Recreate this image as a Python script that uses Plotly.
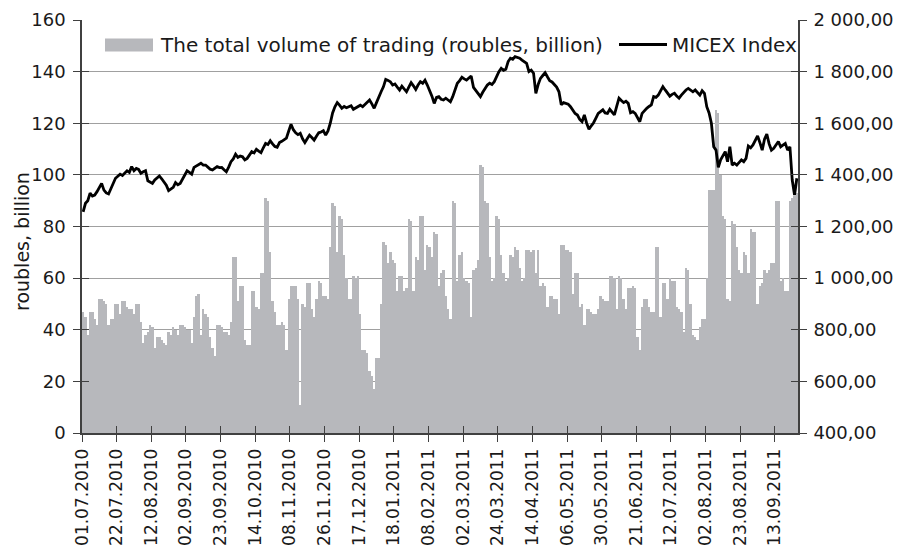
import plotly.graph_objects as go

# ---------------- data ----------------
volume = [
    47, 45, 38, 47, 47, 44, 42, 52, 52, 51, 50, 42, 44, 44, 50, 50, 46, 51, 51, 49,
    48, 48, 46, 50, 50, 43, 35, 38, 39, 42, 41, 33, 37, 37, 36, 35, 34, 39, 38, 41,
    40, 38, 42, 42, 41, 40, 40, 35, 45, 53, 54, 38, 48, 46, 45, 37, 33, 30, 42, 42,
    41, 39, 39, 38, 43, 68, 68, 51, 57, 57, 36, 34, 34, 55, 55, 49, 48, 62, 62, 91,
    90, 70, 51, 47, 42, 42, 43, 42, 32, 52, 57, 57, 57, 52, 11, 50, 49, 58, 58, 48,
    45, 52, 59, 58, 53, 53, 52, 72, 89, 88, 70, 84, 83, 69, 60, 52, 52, 61, 60, 61,
    46, 32, 32, 31, 24, 22, 17, 29, 29, 50, 74, 73, 66, 70, 67, 66, 55, 61, 61, 55,
    56, 83, 82, 55, 68, 67, 84, 84, 63, 73, 72, 68, 78, 77, 57, 62, 63, 53, 48, 44,
    90, 89, 59, 69, 70, 60, 59, 58, 45, 63, 64, 67, 104, 103, 90, 89, 68, 59, 60, 84,
    83, 69, 62, 59, 60, 69, 68, 72, 71, 64, 59, 60, 71, 71, 70, 71, 62, 71, 57, 58,
    57, 49, 53, 53, 52, 52, 46, 73, 73, 71, 71, 70, 54, 62, 62, 49, 50, 42, 48, 48,
    47, 46, 46, 48, 53, 52, 51, 51, 61, 61, 60, 48, 61, 60, 52, 48, 56, 56, 57, 56,
    37, 32, 49, 52, 52, 49, 47, 47, 72, 72, 45, 58, 58, 52, 60, 59, 59, 49, 48, 47,
    39, 64, 63, 50, 38, 37, 36, 41, 44, 44, 60, 94, 94, 94, 125, 124, 100, 84, 83, 52,
    51, 82, 81, 72, 63, 62, 70, 69, 62, 79, 78, 78, 50, 57, 58, 63, 62, 63, 66, 66,
    90, 90, 59, 60, 55, 55, 90, 91, 92, 93,
]

micex = [
    1257, 1290, 1300, 1329, 1318, 1322, 1335, 1352, 1367, 1341, 1330, 1326, 1348, 1370, 1387, 1395, 1403, 1398, 1406, 1416,
    1410, 1432, 1416, 1425, 1421, 1406, 1412, 1416, 1377, 1372, 1367, 1380, 1390, 1396, 1385, 1374, 1360, 1339, 1345, 1352,
    1370, 1362, 1367, 1385, 1399, 1416, 1410, 1403, 1429, 1435, 1442, 1445, 1438, 1438, 1430, 1422, 1419, 1425, 1432, 1428,
    1429, 1420, 1412, 1430, 1451, 1462, 1480, 1468, 1473, 1470, 1458, 1464, 1478, 1490, 1485, 1499, 1492, 1486, 1505, 1522,
    1518, 1532, 1520, 1510, 1507, 1525, 1530, 1536, 1542, 1570, 1596, 1575, 1563, 1556, 1561, 1540, 1525, 1540, 1554, 1545,
    1535, 1550, 1563, 1566, 1571, 1554, 1570, 1600, 1640, 1664, 1680, 1670, 1658, 1665, 1660, 1664, 1668, 1654, 1660, 1667,
    1670, 1664, 1672, 1680, 1690, 1675, 1658, 1680, 1703, 1722, 1741, 1770, 1766, 1761, 1748, 1752, 1740, 1729, 1744, 1735,
    1722, 1740, 1757, 1745, 1731, 1748, 1761, 1755, 1767, 1748, 1728, 1705, 1677, 1700, 1703, 1693, 1690, 1697, 1690, 1683,
    1703, 1730, 1755, 1765, 1778, 1772, 1767, 1775, 1783, 1739, 1726, 1715, 1703, 1720, 1735, 1748, 1755, 1750, 1761, 1782,
    1800, 1813, 1805, 1809, 1839, 1852, 1848, 1858, 1855, 1852, 1845, 1840, 1832, 1800, 1806, 1794, 1716, 1750, 1774, 1785,
    1796, 1780, 1765, 1760, 1748, 1740, 1722, 1672, 1680, 1678, 1674, 1664, 1650, 1638, 1632, 1615, 1606, 1632, 1600, 1577,
    1590, 1602, 1620, 1638, 1645, 1652, 1640, 1638, 1654, 1645, 1632, 1665, 1697, 1688, 1680, 1685, 1677, 1641, 1645, 1638,
    1620, 1606, 1638, 1650, 1658, 1665, 1671, 1703, 1700, 1709, 1725, 1742, 1729, 1718, 1705, 1712, 1716, 1705, 1697, 1709,
    1720, 1729, 1735, 1728, 1722, 1729, 1718, 1709, 1726, 1716, 1664, 1640, 1600, 1509, 1496, 1429, 1458, 1475, 1490, 1451,
    1509, 1438, 1445, 1438, 1448, 1458, 1451, 1464, 1512, 1505, 1516, 1535, 1551, 1525, 1496, 1538, 1558, 1520, 1496, 1503,
    1515, 1529, 1509, 1515, 1522, 1496, 1509, 1380, 1322, 1387,
]

date_labels = [
    "01.07.2010", "22.07.2010", "12.08.2010", "02.09.2010", "23.09.2010",
    "14.10.2010", "08.11.2010", "26.11.2010", "17.12.2010", "18.01.2011",
    "08.02.2011", "02.03.2011", "24.03.2011", "14.04.2011", "06.05.2011",
    "30.05.2011", "21.06.2011", "12.07.2011", "02.08.2011", "23.08.2011",
    "13.09.2011",
]
label_step = 15

left_ticks = [0, 20, 40, 60, 80, 100, 120, 140, 160]
right_ticks = [400, 600, 800, 1000, 1200, 1400, 1600, 1800, 2000]
right_tick_text = ["400,00", "600,00", "800,00", "1 000,00", "1 200,00",
                   "1 400,00", "1 600,00", "1 800,00", "2 000,00"]

bar_name = "The total volume of trading (roubles, billion)"
line_name = "MICEX Index"
y_title = "roubles, billion"

# ---------------- style ----------------
OFF = 8  # page body margin of the html page
W, H = 901 - OFF, 554 - OFF
PL, PR, PT, PB = 82, 798, 20, 433  # plot box in window pixels
L, R, T, B = PL - OFF, W - (PR - OFF), PT - OFF, H - (PB - OFF)
PW, PH = PR - PL, PB - PT
FONT = "DejaVu Sans"
TXT = "#1a1a1a"
BAR = "#b7b8bc"
AXC = "#404040"
GRID = "#a0a0a0"

n = len(volume)
idx = list(range(n))
xr = [-0.5, n - 0.5]
xtickvals = [label_step * k - 0.5 for k in range(len(date_labels))]


def px_x(p):
    return (p - PL) / PW


def px_y(p):
    return (PB - p) / PH


fig = go.Figure()
fig.add_trace(go.Bar(x=idx, y=volume, name=bar_name, marker=dict(color=BAR, line=dict(width=0)),
                     width=1.0, yaxis="y", xaxis="x", showlegend=False))
fig.add_trace(go.Scatter(x=idx, y=micex, name=line_name, mode="lines",
                         line=dict(color="#000000", width=2.8), yaxis="y2", xaxis="x", showlegend=False))
# empty traces to create overlay axes used for the inner half of cross tick marks
fig.add_trace(go.Scatter(x=[], y=[], xaxis="x2", yaxis="y3", showlegend=False, hoverinfo="skip"))
fig.add_trace(go.Scatter(x=[], y=[], xaxis="x2", yaxis="y4", showlegend=False, hoverinfo="skip"))

tickfont = dict(family=FONT, size=18, color=TXT)
xtickfont = dict(family=FONT, size=17, color=TXT)

fig.update_layout(
    width=W, height=H, autosize=False,
    margin=dict(l=L, r=R, t=T, b=B, pad=0, autoexpand=False),
    paper_bgcolor="white", plot_bgcolor="white",
    bargap=0, showlegend=False,
    font=dict(family=FONT, size=18, color=TXT),
    xaxis=dict(range=xr, tickmode="array", tickvals=xtickvals, ticktext=date_labels,
               tickangle=-90, ticks="outside", ticklen=7, tickwidth=1.3, tickcolor=AXC,
               showline=True, linecolor=AXC, linewidth=1.6, showgrid=False, zeroline=False,
               tickfont=xtickfont, fixedrange=True, automargin=False),
    xaxis2=dict(range=xr, overlaying="x", anchor="y", tickmode="array", tickvals=xtickvals,
                ticks="inside", ticklen=7, tickwidth=1.3, tickcolor=AXC, showticklabels=False,
                showline=False, showgrid=False, zeroline=False, automargin=False),
    yaxis=dict(range=[0, 160], tickmode="array", tickvals=left_ticks, ticks="outside",
               ticklen=7, tickwidth=1.3, tickcolor=AXC, showline=True, linecolor=AXC,
               linewidth=1.6, showgrid=True, gridcolor=GRID, gridwidth=1, zeroline=False,
               tickfont=tickfont, ticklabelstandoff=4, automargin=False),
    yaxis2=dict(range=[400, 2000], overlaying="y", side="right", anchor="x", tickmode="array",
                tickvals=right_ticks, ticktext=right_tick_text, ticks="outside", ticklen=7,
                tickwidth=1.3, tickcolor=AXC, showline=True, linecolor=AXC, linewidth=1.6,
                showgrid=False, zeroline=False, tickfont=tickfont, ticklabelstandoff=3,
                automargin=False),
    yaxis3=dict(range=[0, 160], overlaying="y", anchor="x", tickmode="array", tickvals=left_ticks,
                ticks="inside", ticklen=7, tickwidth=1.3, tickcolor=AXC, showticklabels=False,
                showline=False, showgrid=False, zeroline=False, automargin=False),
    yaxis4=dict(range=[400, 2000], overlaying="y", side="right", anchor="x", tickmode="array",
                tickvals=right_ticks, ticks="inside", ticklen=7, tickwidth=1.3, tickcolor=AXC,
                showticklabels=False, showline=False, showgrid=False, zeroline=False,
                automargin=False),
)

# manual legend (inside the plot, top)
fig.add_shape(type="rect", xref="paper", yref="paper",
              x0=px_x(105), x1=px_x(153), y0=px_y(51.5), y1=px_y(38.5),
              fillcolor=BAR, line=dict(width=0), layer="above")
fig.add_shape(type="line", xref="paper", yref="paper",
              x0=px_x(619), x1=px_x(667), y0=px_y(44.5), y1=px_y(44.5),
              line=dict(color="#000000", width=2.8), layer="above")
fig.add_annotation(text=bar_name, xref="paper", yref="paper", x=px_x(158), y=px_y(45),
                   xanchor="left", yanchor="middle", showarrow=False,
                   font=dict(family=FONT, size=20, color=TXT))
fig.add_annotation(text=line_name, xref="paper", yref="paper", x=px_x(670), y=px_y(45),
                   xanchor="left", yanchor="middle", showarrow=False,
                   font=dict(family=FONT, size=20, color=TXT))
# y-axis title
fig.add_annotation(text=y_title, xref="paper", yref="paper", x=px_x(22), y=px_y(242),
                   xanchor="center", yanchor="middle", textangle=-90, showarrow=False,
                   font=dict(family=FONT, size=19, color=TXT))

fig.write_html("out.html")
